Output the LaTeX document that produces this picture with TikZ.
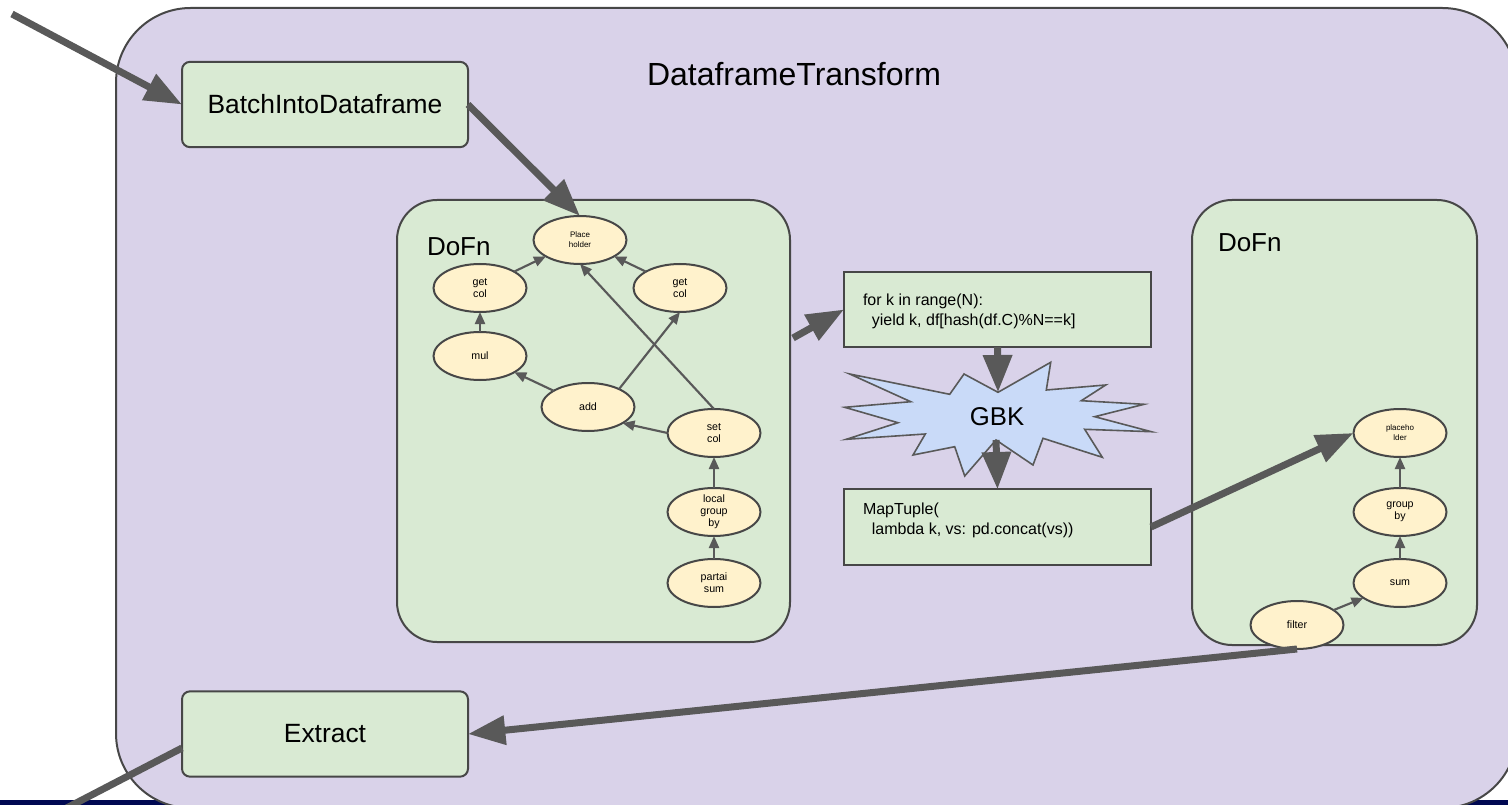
\documentclass[tikz,border=0pt]{standalone}
\usepackage{fontspec}
\setmainfont{Liberation Sans}
\usetikzlibrary{arrows.meta,shapes.geometric}

\definecolor{framefill}{HTML}{D9D2E9}
\definecolor{stepfill}{HTML}{D9EAD3}
\definecolor{opfill}{HTML}{FFF2CC}
\definecolor{shufflefill}{HTML}{C9DAF8}
\definecolor{edgegray}{HTML}{595959}
\definecolor{linegray}{HTML}{474747}
\definecolor{navybar}{RGB}{0,8,82}

\begin{document}
\begin{tikzpicture}[x=0.75pt,y=-0.75pt,
  every node/.style={inner sep=0pt,outer sep=0pt},
  container/.style={rectangle,draw=linegray,line width=1.5pt,fill=framefill,rounded corners=56pt},
  stepbox/.style={rectangle,draw=linegray,line width=1.5pt,fill=stepfill,rounded corners=6pt,
    minimum width=214.5pt,minimum height=64pt,font=\fontsize{19.8pt}{24pt}\selectfont},
  dofnbox/.style={rectangle,draw=linegray,line width=1.5pt,fill=stepfill,rounded corners=30pt},
  codebox/.style={rectangle,draw=linegray,line width=1.5pt,fill=stepfill,
    minimum width=230.25pt,minimum height=56.5pt},
  codetext/.style={anchor=west,align=left,font=\fontsize{12pt}{15pt}\selectfont},
  dofnlabel/.style={anchor=west,font=\fontsize{19.5pt}{23pt}\selectfont},
  opnode/.style={ellipse,draw=linegray,line width=1.5pt,fill=opfill,
    minimum width=69.75pt,minimum height=36pt},
  optext/.style={align=center,font=\fontsize{8pt}{9pt}\selectfont},
  opsmall/.style={align=center,font=\fontsize{6pt}{7.5pt}\selectfont},
  thinarrow/.style={draw=edgegray,line width=1.6pt,-{Triangle[length=9pt,width=7.5pt]}},
  bigarrow/.style={draw=edgegray,line width=5.25pt,-{Triangle[length=28pt,width=21pt]}},
]
\useasboundingbox (0,0) rectangle (1508,805);
\clip (0,0) rectangle (1508,805);

% strip along the lower edge
\fill[navybar] (0,800) rectangle (1508,806);

% outer transform container
\node[container,minimum width=1050.75pt,minimum height=600pt] (transform) at (816.5,408) {};
\node[anchor=base west,font=\fontsize{24pt}{28pt}\selectfont] (title) at (647,86) {DataframeTransform};

% entry and exit steps
\node[stepbox] (batch) at (325,104.5) {BatchIntoDataframe};
\node[stepbox] (extract) at (325,734) {Extract};

% first DoFn with its expression graph
\node[dofnbox,minimum width=294.75pt,minimum height=331.5pt] (dofnA) at (593.5,421) {};
\node[dofnlabel] (dofnAlabel) at (427,247) {DoFn};

\node[opnode] (ph) at (580,240) {};
\node[opsmall] at (ph) {Place\\holder};
\node[opnode] (getcolL) at (480,288) {};
\node[optext] at (getcolL) {get\\col};
\node[opnode] (getcolR) at (680,288) {};
\node[optext] at (getcolR) {get\\col};
\node[opnode] (mul) at (480,356) {};
\node[optext] at (mul) {mul};
\node[opnode] (add) at (588,407) {};
\node[optext] at (add) {add};
\node[opnode] (setcol) at (714,433) {};
\node[optext] at (setcol) {set\\col};
\node[opnode] (lgb) at (714,512) {};
\node[optext] at (lgb) {local\\group\\by};
\node[opnode] (psum) at (714,583) {};
\node[optext] at (psum) {partai\\sum};

\draw[thinarrow] (getcolL) -- (ph);
\draw[thinarrow] (getcolR) -- (ph);
\draw[thinarrow] (mul) -- (getcolL);
\draw[thinarrow] (add) -- (mul);
\draw[thinarrow] (add.30) -- (getcolR.south);
\draw[thinarrow] (setcol.north) -- (ph.south);
\draw[thinarrow] (setcol.west) -- (add.-25);
\draw[thinarrow] (lgb) -- (setcol);
\draw[thinarrow] (psum) -- (lgb);

% shuffle stage
\node[codebox] (fork) at (997.5,309.5) {};
\node[codetext] at (863,311) {for k in range(N):\\\hspace*{0.556em}yield k, df[hash(df.C)\%N==k]};
\node[codebox] (maptuple) at (997.5,527) {};
\node[codetext] at (863,520) {MapTuple(\\\hspace*{0.556em}lambda k, vs: pd.concat(vs))};

% the group-by-key burst
\draw[fill=shufflefill,draw=edgegray,line width=1.2pt,line join=miter]
  (849.7,374) -- (949.7,394.3) -- (964,374) -- (998,392.3) coordinate (gbktop)
  -- (1050.7,362.3) -- (1046.3,390) -- (1105.7,385) -- (1081.3,400.7) -- (1144,404.3)
  -- (1094.7,416.7) -- (1151.3,431.7) -- (1084.7,429.3) -- (1102.3,457.3) -- (1043,438.3)
  -- (1033,465) -- (996,440) coordinate (gbkbot) -- (964.7,476) -- (954.7,446.7)
  -- (913,455) -- (925.3,434) -- (846.3,439.3) -- (898,422.7) -- (844.7,407.3)
  -- (910.7,401.7) -- cycle;
\node[font=\fontsize{19.3pt}{23pt}\selectfont] (gbk) at (997,417) {GBK};

% second DoFn
\node[dofnbox,minimum width=213.75pt,minimum height=333.75pt] (dofnB) at (1334.5,422.5) {};
\node[dofnlabel] (dofnBlabel) at (1218,243) {DoFn};

\node[opnode] (ph2) at (1400,433) {};
\node[opsmall] at (ph2) {placeho\\lder};
\node[opnode] (gby) at (1400,512) {};
\node[optext] at (gby) {group\\by};
\node[opnode] (sum) at (1400,583) {};
\node[optext] at (sum) {sum};
\node[opnode] (filter) at (1297,625) {};
\node[optext] at (filter) {filter};

\draw[thinarrow] (filter) -- (sum);
\draw[thinarrow] (sum) -- (gby);
\draw[thinarrow] (gby) -- (ph2);

% main data flow
\coordinate (source) at (12,14);
\coordinate (dofnAout) at (793,338);
\coordinate (sink) at (30,827);
\draw[bigarrow] (source) -- (batch.west);
\draw[bigarrow] (batch.east) -- (ph.north);
\draw[bigarrow] (dofnAout) -- (fork.west);
\draw[bigarrow] (fork.south) -- (gbktop);
\draw[bigarrow] (gbkbot) -- (maptuple.north);
\draw[bigarrow] (maptuple.east) -- (ph2.west);
\draw[bigarrow] (filter.south) -- (extract.east);
\draw[draw=edgegray,line width=5.25pt] ([yshift=-10.5pt]extract.west) -- (sink);
\end{tikzpicture}
\end{document}
